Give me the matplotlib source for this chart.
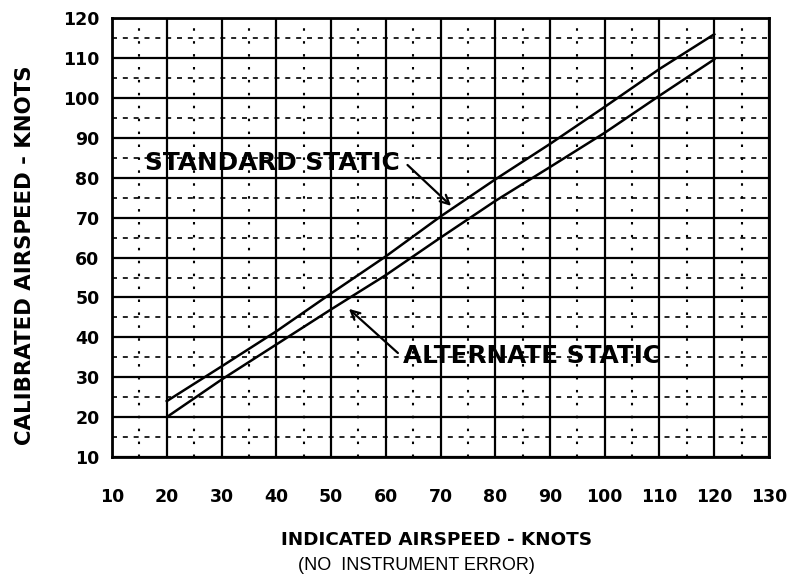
import matplotlib
matplotlib.use("Agg")
import matplotlib.pyplot as plt
from matplotlib.ticker import MultipleLocator

# Data
ias = [20, 30, 40, 50, 60, 70, 80, 90, 100, 110, 120]
cas_standard = [24, 32.7, 41.5, 51, 60.3, 70.3, 79.6, 88.5, 97.8, 107.3, 116]
cas_alternate = [20, 29.4, 38.2, 47, 55.6, 65, 74.2, 82.7, 91.3, 100.6, 109.7]
x_ticks = [10, 20, 30, 40, 50, 60, 70, 80, 90, 100, 110, 120, 130]
y_ticks = [10, 20, 30, 40, 50, 60, 70, 80, 90, 100, 110, 120]
label_standard = "STANDARD STATIC"
label_alternate = "ALTERNATE STATIC"

plt.rcParams['font.family'] = ['DejaVu Sans']

fig = plt.figure(figsize=(7.9, 5.87), dpi=100)
ax = fig.add_axes([0.1418, 0.2215, 0.8316, 0.7473])

ax.set_xlim(10, 130)
ax.set_ylim(10, 120)
ax.xaxis.set_minor_locator(MultipleLocator(5))
ax.yaxis.set_minor_locator(MultipleLocator(5))
ax.set_xticks(x_ticks)
ax.set_yticks(y_ticks)
ax.set_xticklabels([str(v) for v in x_ticks], fontsize=12.5, fontweight='bold')
ax.set_yticklabels([str(v) for v in y_ticks], fontsize=12.5, fontweight='bold')
ax.tick_params(axis='both', which='both', length=0)
ax.tick_params(axis='x', pad=22)
ax.tick_params(axis='y', pad=9)

ax.xaxis.grid(True, which='major', color='black', linewidth=1.6, linestyle='-')
ax.yaxis.grid(True, which='major', color='black', linewidth=1.6, linestyle='-')
ax.xaxis.grid(True, which='minor', color='black', linewidth=1.5, linestyle=(0, (1.2, 5)))
ax.yaxis.grid(True, which='minor', color='black', linewidth=1.2, linestyle=(0, (3, 3.5)))
ax.set_axisbelow(True)
for s in ax.spines.values():
    s.set_linewidth(2)
    s.set_color('black')

ax.plot(ias, cas_standard, color='black', linewidth=1.8, zorder=3)
ax.plot(ias, cas_alternate, color='black', linewidth=1.8, zorder=3)

ax.text(16.0, 83.8, label_standard, fontsize=17.8, fontweight='bold',
        ha='left', va='center', zorder=4)
ax.annotate("", xy=(72.3, 72.5), xytext=(63.6, 83.7),
            arrowprops=dict(arrowstyle='->', color='black', lw=1.6,
                            mutation_scale=16), zorder=4)
ax.text(63.2, 35.4, label_alternate, fontsize=17.8, fontweight='bold',
        ha='left', va='center', zorder=4)
ax.annotate("", xy=(52.9, 47.6), xytext=(62.6, 35.6),
            arrowprops=dict(arrowstyle='->', color='black', lw=1.6,
                            mutation_scale=16), zorder=4)

fig.text(0.553, 1 - 540 / 587, "INDICATED AIRSPEED - KNOTS", fontsize=13.2,
         fontweight='bold', ha='center', va='center')
fig.text(0.527, 1 - 566 / 587, "(NO  INSTRUMENT ERROR)", fontsize=13,
         family='Liberation Sans', ha='center', va='center')
fig.text(25 / 790, 1 - 255 / 587, "CALIBRATED AIRSPEED - KNOTS", fontsize=15.3,
         fontweight='bold', rotation=90, ha='center', va='center')

fig.savefig("out.png", dpi=100)
